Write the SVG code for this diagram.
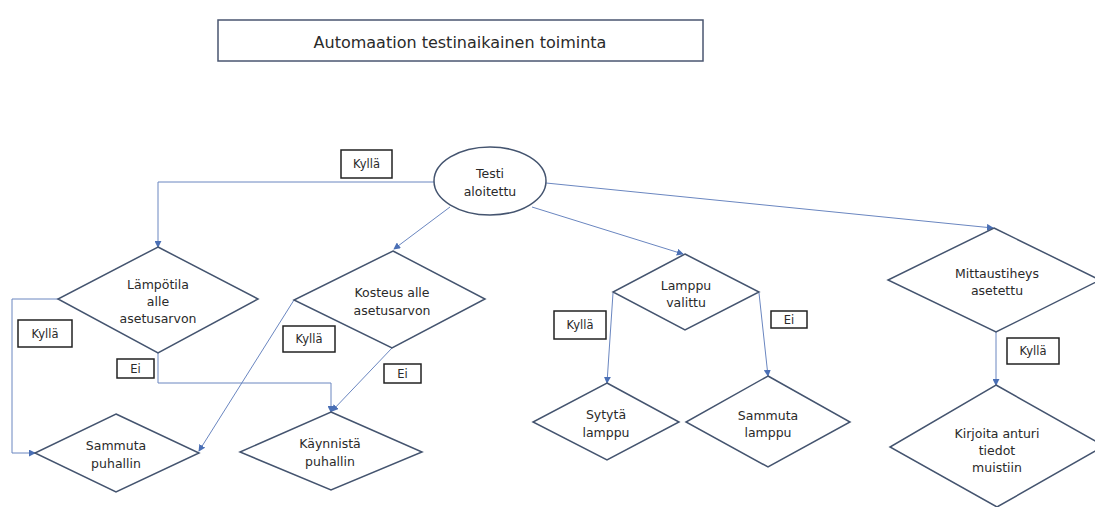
<svg xmlns="http://www.w3.org/2000/svg" width="1095" height="507" viewBox="0 0 1095 507">
  <style>
    .shape { fill: #ffffff; stroke: #44546f; stroke-width: 1.5; }
    .conn { fill: none; stroke: #6a86c0; stroke-width: 1; }
    .tag { fill: #ffffff; stroke: #222222; stroke-width: 1.5; }
    text { font-family: "DejaVu Sans", "Liberation Sans", sans-serif; font-size: 12.5px; fill: #2a2a2a; text-anchor: middle; dominant-baseline: central; }
    .tag-text { font-size: 11.5px; }
    .title { font-size: 16px; }
  </style>
  <defs>
    <marker id="arrow" viewBox="0 0 8 8" refX="7" refY="4" markerWidth="7" markerHeight="7" orient="auto" markerUnits="userSpaceOnUse">
      <path d="M0,0 L8,4 L0,8 Z" fill="#4a6fb5"/>
    </marker>
  </defs>

  <rect width="1095" height="507" fill="#ffffff"/>

  <g id="title">
    <rect x="218" y="20" width="485" height="41" fill="#ffffff" stroke="#4a5670" stroke-width="1.5"/>
    <text class="title" x="460" y="42">Automaation testinaikainen toiminta</text>
  </g>

  <!-- connectors -->
  <g id="connectors">
    <polyline class="conn" points="434,182 158,182 158,247" marker-end="url(#arrow)"/>
    <polyline class="conn" points="450,207 394,249" marker-end="url(#arrow)"/>
    <polyline class="conn" points="532,207 683,254" marker-end="url(#arrow)"/>
    <polyline class="conn" points="546,183 993,228" marker-end="url(#arrow)"/>
    <polyline class="conn" points="58,299 12,299 12,453 35,453" marker-end="url(#arrow)"/>
    <polyline class="conn" points="158,353 158,383 331,383 331,412" marker-end="url(#arrow)"/>
    <polyline class="conn" points="294,300 199,451" marker-end="url(#arrow)"/>
    <polyline class="conn" points="392,348 332,411" marker-end="url(#arrow)"/>
    <polyline class="conn" points="613,293 607,383" marker-end="url(#arrow)"/>
    <polyline class="conn" points="759,293 768,376" marker-end="url(#arrow)"/>
    <polyline class="conn" points="996,332 996,385" marker-end="url(#arrow)"/>
  </g>

  <g id="labels">
    <rect class="tag" x="341" y="150" width="51" height="28"/>
    <text class="tag-text" x="366.5" y="164">Kyllä</text>
    <rect class="tag" x="18" y="320" width="54" height="27"/>
    <text class="tag-text" x="45" y="334">Kyllä</text>
    <rect class="tag" x="117" y="359" width="37" height="19"/>
    <text class="tag-text" x="135.5" y="368.5">Ei</text>
    <rect class="tag" x="283" y="326" width="52" height="26"/>
    <text class="tag-text" x="309" y="339">Kyllä</text>
    <rect class="tag" x="384" y="364" width="37" height="19"/>
    <text class="tag-text" x="402.5" y="373.5">Ei</text>
    <rect class="tag" x="554" y="311" width="52" height="28"/>
    <text class="tag-text" x="580" y="325">Kyllä</text>
    <rect class="tag" x="771" y="311" width="36" height="17"/>
    <text class="tag-text" x="789" y="319.5">Ei</text>
    <rect class="tag" x="1007" y="338" width="52" height="26"/>
    <text class="tag-text" x="1033" y="351">Kyllä</text>
  </g>

  <g id="start">
    <ellipse class="shape" cx="490" cy="181" rx="56" ry="34"/>
    <text x="490" y="173">Testi</text>
    <text x="490" y="191">aloitettu</text>
  </g>

  <g id="temp-check">
    <polygon class="shape" points="158,247 258,299 158,353 58,299"/>
    <text x="158" y="284">Lämpötila</text>
    <text x="158" y="301">alle</text>
    <text x="158" y="318">asetusarvon</text>
  </g>

  <g id="fan-off">
    <polygon class="shape" points="116,414 199,453 116,492 35,453"/>
    <text x="116" y="445">Sammuta</text>
    <text x="116" y="463">puhallin</text>
  </g>

  <g id="humidity-check">
    <polygon class="shape" points="393,251 485,299 392,348 294,300"/>
    <text x="392" y="292">Kosteus alle</text>
    <text x="392" y="310">asetusarvon</text>
  </g>

  <g id="fan-on">
    <polygon class="shape" points="331,412 422,452 331,490 240,452"/>
    <text x="330" y="443">Käynnistä</text>
    <text x="330" y="461">puhallin</text>
  </g>

  <g id="lamp-check">
    <polygon class="shape" points="685,254 759,292 685,330 613,292"/>
    <text x="686" y="285">Lamppu</text>
    <text x="686" y="302">valittu</text>
  </g>

  <g id="lamp-on">
    <polygon class="shape" points="607,383 679,422 607,460 533,422"/>
    <text x="606" y="414">Sytytä</text>
    <text x="606" y="432">lamppu</text>
  </g>

  <g id="lamp-off">
    <polygon class="shape" points="768,376 850,422 768,467 686,422"/>
    <text x="768" y="415">Sammuta</text>
    <text x="768" y="432">lamppu</text>
  </g>

  <g id="interval-check">
    <polygon class="shape" points="994,228 1100,280 996,332 888,280"/>
    <text x="997" y="273">Mittaustiheys</text>
    <text x="997" y="290">asetettu</text>
  </g>

  <g id="write-data">
    <polygon class="shape" points="996,385 1104,446 997,507 890,447"/>
    <text x="997" y="433">Kirjoita anturi</text>
    <text x="997" y="450">tiedot</text>
    <text x="997" y="467">muistiin</text>
  </g>
</svg>
